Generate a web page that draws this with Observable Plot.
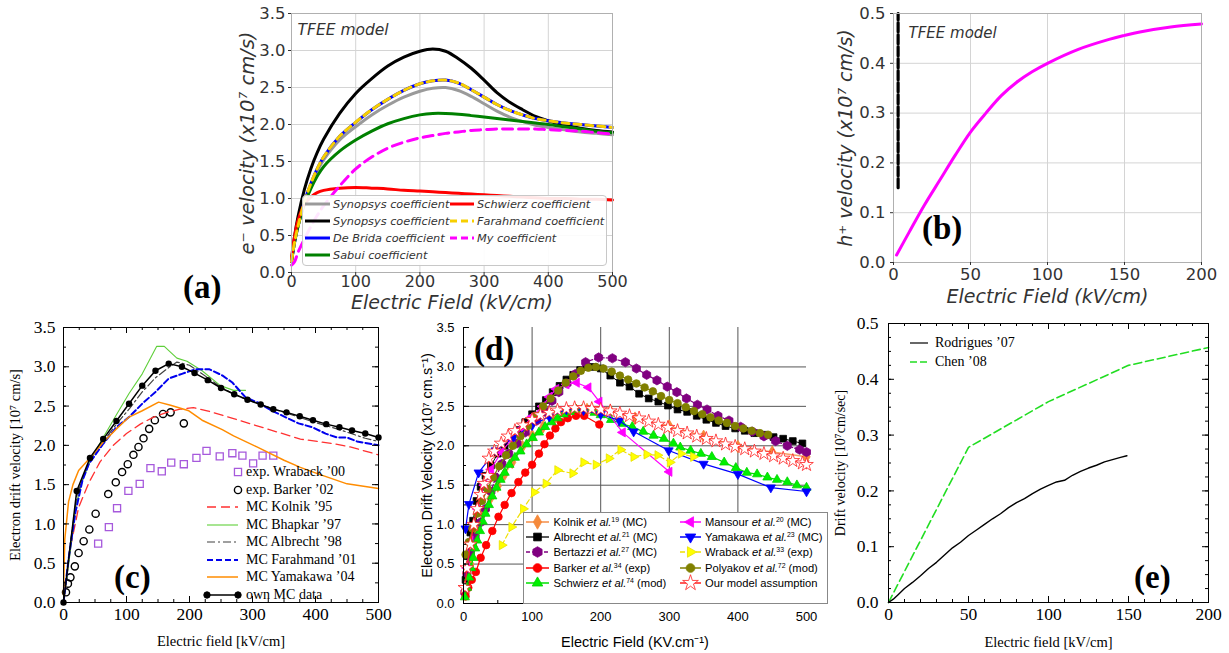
<!DOCTYPE html>
<html><head><meta charset="utf-8">
<script src="https://cdn.jsdelivr.net/npm/d3@7"></script>
<script src="https://cdn.jsdelivr.net/npm/@observablehq/plot@0.6"></script>
<style>
html,body{margin:0;padding:0;background:#fff;}
#fig{position:relative;width:1229px;height:653px;overflow:hidden;background:#fff;}
.plbl{position:absolute;font-family:"Liberation Serif",serif;font-weight:bold;font-size:33px;line-height:1;color:#000;}
</style></head>
<body><div id="fig"></div>
<script>
// ---------------- Panel (a) data ----------------
const aField = [0,5,10,20,30,40,50,75,100,125,150,175,200,220,240,260,280,300,320,340,360,380,400,425,450,475,500];
const aSynopsysGrey = [0.15,0.42,0.62,0.95,1.18,1.37,1.52,1.79,1.97,2.13,2.26,2.37,2.45,2.49,2.5,2.46,2.38,2.28,2.18,2.1,2.04,1.99,1.96,1.93,1.9,1.88,1.86];
const aSynopsysBlack = [0.15,0.5,0.75,1.12,1.4,1.62,1.8,2.15,2.42,2.62,2.79,2.91,2.99,3.02,2.99,2.89,2.76,2.6,2.43,2.3,2.2,2.11,2.05,1.99,1.95,1.92,1.9];
const aDeBrida = [0.15,0.42,0.62,0.95,1.2,1.4,1.56,1.84,2.03,2.2,2.34,2.46,2.55,2.59,2.6,2.56,2.47,2.37,2.27,2.19,2.13,2.08,2.05,2.02,2.0,1.98,1.96];
const aFarahmand = [0.15,0.42,0.62,0.95,1.2,1.4,1.56,1.84,2.03,2.2,2.34,2.46,2.55,2.59,2.6,2.56,2.47,2.37,2.27,2.19,2.13,2.08,2.05,2.02,2.0,1.98,1.96];
const aSabui = [0.15,0.42,0.62,0.92,1.13,1.3,1.43,1.64,1.79,1.91,2.01,2.08,2.13,2.15,2.15,2.14,2.12,2.1,2.08,2.06,2.04,2.02,2.0,1.97,1.94,1.91,1.89];
const aSchwierz = [0.2,0.5,0.7,0.92,1.02,1.08,1.11,1.14,1.15,1.14,1.13,1.11,1.1,1.09,1.08,1.07,1.06,1.05,1.04,1.03,1.02,1.01,1.0,1.0,0.99,0.99,0.98];
const aMine = [0.1,0.15,0.27,0.45,0.62,0.77,0.9,1.17,1.4,1.56,1.68,1.76,1.82,1.85,1.88,1.9,1.92,1.93,1.94,1.94,1.94,1.94,1.93,1.92,1.91,1.89,1.87];
const aXTicks = [0,100,200,300,400,500];
const aYTicks = [0,0.5,1,1.5,2,2.5,3,3.5];
const aLegendNames = ["Synopsys coefficient","Synopsys coefficient","De Brida coefficient","Sabui coefficient","Schwierz coefficient","Farahmand coefficient","My coefficient"];

// ---------------- Panel (b) data ----------------
const bField = [2,10,20,30,40,50,60,70,80,90,100,120,140,150,160,180,200];
const bHole = [0.015,0.06,0.115,0.165,0.215,0.262,0.3,0.335,0.362,0.383,0.4,0.428,0.448,0.456,0.463,0.473,0.479];
const bMarkField = [3,3];
const bMarkV = [0.15,0.5];
const bXTicks = [0,50,100,150,200];
const bYTicks = [0,0.1,0.2,0.3,0.4,0.5];

// ---------------- Panel (c) data ----------------
const cOwnField = [0,21,42,63,84,104,125,146,167,188,208,229,250,271,292,313,333,354,375,396,417,438,458,479,500];
const cOwnV = [0,1.42,1.84,2.08,2.31,2.53,2.76,2.95,3.04,3.0,2.92,2.83,2.73,2.65,2.58,2.52,2.46,2.42,2.37,2.32,2.27,2.23,2.19,2.15,2.1];
const cBarkerField = [4,7,11,18,24,32,41,51,71,83,93,102,111,119,127,136,145,158,170,191];
const cBarkerV = [0.13,0.24,0.32,0.46,0.63,0.78,0.93,1.13,1.38,1.53,1.66,1.76,1.88,1.98,2.09,2.21,2.32,2.4,2.42,2.28];
const cWrabackField = [55,72,85,103,121,138,156,171,191,211,227,248,268,284,301,316,333];
const cWrabackV = [0.75,0.96,1.2,1.42,1.51,1.71,1.67,1.78,1.76,1.84,1.93,1.86,1.9,1.87,1.77,1.87,1.87];
const cKolnikField = [0,11,24,40,58,79,100,122,143,164,185,206,228,270,323,376,429,455,500];
const cKolnikV = [0,0.7,1.21,1.52,1.79,2.0,2.15,2.27,2.36,2.42,2.46,2.48,2.44,2.34,2.21,2.08,2.02,1.98,1.88];
const cBhapkarField = [0,10,20,30,43,63,84,104,125,148,160,168,180,196,220,249,270,289];
const cBhapkarV = [0,0.6,1.25,1.55,1.81,2.1,2.39,2.66,2.91,3.26,3.26,3.2,3.11,3.07,2.95,2.76,2.7,2.7];
const cAlbrechtField = [0,10,21,31,42,63,84,105,125,146,167,180,200,229,250,271,292,313,354,396,438,479,500];
const cAlbrechtV = [0,0.7,1.35,1.6,1.82,2.05,2.27,2.47,2.68,2.86,2.99,3.06,3.02,2.86,2.74,2.65,2.58,2.52,2.41,2.3,2.2,2.09,2.05];
const cFarahmandField = [0,8,19,30,40,63,84,104,125,146,167,188,210,231,252,268,289,310,331,352,373,395,416,434,450,466,500];
const cFarahmandV = [0,0.55,1.15,1.55,1.76,2.02,2.23,2.36,2.53,2.68,2.85,2.91,2.97,2.97,2.89,2.8,2.61,2.54,2.44,2.36,2.28,2.23,2.15,2.1,2.1,2.05,2.0];
const cYamakawaField = [0,2,8,15,24,43,63,84,104,125,151,170,199,220,252,270,307,350,376,403,450,500];
const cYamakawaV = [0.1,0.8,1.28,1.5,1.68,1.85,2.04,2.21,2.36,2.44,2.55,2.51,2.44,2.32,2.2,2.12,1.98,1.81,1.72,1.64,1.51,1.45];
const cXTicks = [0,100,200,300,400,500];
const cYTicks = [0,0.5,1,1.5,2,2.5,3,3.5];

// ---------------- Panel (d) data ----------------
const dKolnikField = [5,10,15,20,28,39,50,60,71,86,100,116,132,148,164,180,214,250,300,350,400,450,500];
const dKolnikV = [0.25,0.5,0.72,0.92,1.14,1.33,1.49,1.64,1.79,1.99,2.13,2.24,2.33,2.4,2.45,2.46,2.44,2.35,2.25,2.12,1.99,1.92,1.86];
const dAlbrechtField = [3,6,10,14,19,25,32,40,50,60,70,80,90,100,110,120,130,140,150,160,170,180,190,200,214,228,242,256,270,284,298,312,326,340,354,368,382,396,410,424,438,452,466,480,494];
const dAlbrechtV = [0.3,0.6,0.9,1.05,1.3,1.48,1.62,1.75,1.9,2.0,2.1,2.2,2.3,2.4,2.5,2.58,2.68,2.76,2.84,2.9,2.96,3.0,3.0,2.98,2.89,2.8,2.75,2.66,2.6,2.56,2.51,2.46,2.43,2.38,2.33,2.29,2.25,2.22,2.19,2.16,2.14,2.11,2.09,2.06,2.03];
const dBertazziField = [2,5,10,17,25,32,40,47,56,66,78,90,107,119,129,139,151,163,178,197,217,236,252,267,282,297,311,325,341,355,371,387,404,421,438,455,472,490,500];
const dBertazziV = [0.14,0.38,0.63,0.84,1.03,1.2,1.42,1.6,1.77,1.9,2.03,2.17,2.32,2.43,2.57,2.68,2.79,2.91,3.06,3.12,3.11,3.06,2.98,2.9,2.83,2.75,2.68,2.6,2.52,2.46,2.38,2.32,2.24,2.18,2.12,2.06,2.0,1.95,1.92];
const dBarkerField = [3,7,12,18,25,33,42,51,60,70,80,90,100,110,118,126,134,142,152,164,176,198];
const dBarkerV = [0.09,0.2,0.3,0.4,0.58,0.74,0.92,1.1,1.25,1.4,1.54,1.66,1.76,1.9,2.02,2.13,2.22,2.3,2.35,2.38,2.38,2.27];
const dSchwierzField = [2,5,8,11,14,17,20,24,28,32,37,42,48,54,60,67,75,83,92,101,110,119,128,137,146,155,164,173,182,191,200,215,231,246,262,277,292,306,316,331,346,362,380,397,413,428,443,457,472,486,500];
const dSchwierzV = [0.08,0.2,0.33,0.45,0.58,0.7,0.8,0.92,1.04,1.14,1.25,1.36,1.47,1.57,1.66,1.76,1.85,1.93,2.02,2.1,2.17,2.24,2.3,2.35,2.4,2.43,2.46,2.46,2.45,2.42,2.39,2.33,2.28,2.24,2.18,2.13,2.09,2.03,1.98,1.94,1.9,1.86,1.79,1.72,1.66,1.64,1.6,1.57,1.54,1.5,1.47];
const dMansourField = [5,10,20,30,40,55,70,85,100,115,125,135,150,165,182,198,232,300];
const dMansourV = [0.45,0.8,1.2,1.5,1.7,1.92,2.08,2.22,2.37,2.5,2.62,2.72,2.78,2.8,2.74,2.56,2.17,1.67];
const dYamakawaField = [3,8,22,47,72,100,125,150,175,200,227,248,299,350,400,448,500];
const dYamakawaV = [0.95,1.26,1.66,1.94,2.1,2.26,2.37,2.46,2.45,2.4,2.32,2.18,1.94,1.77,1.64,1.47,1.42];
const dWrabackField = [56,70,87,103,120,137,159,175,193,212,229,248,267,283,301,317,335];
const dWrabackV = [0.74,0.97,1.2,1.41,1.52,1.69,1.65,1.79,1.76,1.84,1.95,1.86,1.89,1.88,1.79,1.9,1.86];
const dPolyakovField = [3,8,13,20,27,35,43,52,62,72,83,94,105,116,127,138,149,160,171,182,193,204,216,228,240,252,264,276,288,300,312,324,336,348,360,372,384,396,408,420,432,444];
const dPolyakovV = [0.62,0.78,0.95,1.14,1.3,1.45,1.6,1.74,1.88,2.0,2.12,2.25,2.38,2.5,2.6,2.7,2.8,2.88,2.95,2.99,3.0,2.98,2.94,2.89,2.84,2.79,2.74,2.69,2.63,2.58,2.54,2.49,2.44,2.4,2.36,2.32,2.29,2.25,2.22,2.19,2.16,2.14];
const dOurField = [2,5,10,15,20,25,30,35,37,45,55,65,75,87,100,112,125,137,150,162,175,187,200,214,228,242,256,270,284,298,312,326,340,354,368,382,396,410,424,438,452,466,480,494,500];
const dOurV = [0.2,0.45,0.75,1.0,1.2,1.38,1.52,1.62,1.84,1.93,2.03,2.12,2.19,2.26,2.33,2.39,2.42,2.45,2.47,2.48,2.48,2.47,2.46,2.44,2.41,2.38,2.35,2.31,2.27,2.23,2.19,2.16,2.12,2.09,2.06,2.02,1.99,1.96,1.93,1.9,1.87,1.84,1.81,1.78,1.76];
const dXTicks = [0,100,200,300,400,500];
const dYTicks = [0,0.5,1,1.5,2,2.5,3,3.5];

// ---------------- Panel (e) data ----------------
const eRodriguesField = [0,3,6,10,15,20,25,30,35,40,45,50,55,60,65,70,75,80,85,90,95,100,105,110,115,120,125,130,135,140,145,149];
const eRodriguesV = [0,0.006,0.014,0.025,0.036,0.048,0.061,0.072,0.085,0.098,0.108,0.12,0.13,0.14,0.15,0.159,0.17,0.179,0.186,0.195,0.203,0.21,0.216,0.219,0.228,0.235,0.241,0.246,0.252,0.256,0.26,0.263];
const eChenField = [0,50,100,150,200];
const eChenV = [0,0.278,0.36,0.425,0.457];
const eXTicks = [0,50,100,150,200];
const eYTicks = [0,0.1,0.2,0.3,0.4,0.5];

// ---------------- helpers ----------------
const fig = document.getElementById("fig");
const pts = (xs, ys) => xs.map((x, i) => ({x, y: ys[i]}));
const minor = (n, step) => d3.range(0, n + 1).map(i => +(i * step).toFixed(4));
const S3 = Math.sqrt(3);
const triDown = {draw(c, s) { const y = -Math.sqrt(s / (S3 * 3)); c.moveTo(0, -y * 2); c.lineTo(-S3 * y, y); c.lineTo(S3 * y, y); c.closePath(); }};
const triLeft = {draw(c, s) { const y = -Math.sqrt(s / (S3 * 3)); c.moveTo(y * 2, 0); c.lineTo(-y, -S3 * y); c.lineTo(-y, S3 * y); c.closePath(); }};
const triRight = {draw(c, s) { const y = -Math.sqrt(s / (S3 * 3)); c.moveTo(-y * 2, 0); c.lineTo(y, S3 * y); c.lineTo(y, -S3 * y); c.closePath(); }};
const hexa = {draw(c, s) { const r = Math.sqrt(s / (1.5 * S3)); for (let k = 0; k < 6; k++) { const a = Math.PI / 6 + k * Math.PI / 3; const px = r * Math.cos(a), py = r * Math.sin(a); k ? c.lineTo(px, py) : c.moveTo(px, py); } c.closePath(); }};
const area = r => Math.PI * r * r;

function mount(svg, P) {
  svg.style.position = "absolute"; svg.style.left = P.left + "px"; svg.style.top = P.top + "px";
  svg.style.maxWidth = "none"; svg.style.background = "transparent"; svg.style.overflow = "visible";
  fig.appendChild(svg);
}
function inTicks(P, xs, ys, len, color, sides) {
  const pw = P.width - P.ml - P.mr, ph = P.height - P.mt - P.mb, m = [];
  if (sides.includes("b")) m.push(Plot.tickX(xs, {x: d => d, insetTop: ph - len, stroke: color}));
  if (sides.includes("t")) m.push(Plot.tickX(xs, {x: d => d, insetBottom: ph - len, stroke: color}));
  if (sides.includes("l")) m.push(Plot.tickY(ys, {y: d => d, insetRight: pw - len, stroke: color}));
  if (sides.includes("r")) m.push(Plot.tickY(ys, {y: d => d, insetLeft: pw - len, stroke: color}));
  return m;
}
const yTitle = (txt, dx, o) => Plot.text([txt], {text: d => d, frameAnchor: "left", dx, rotate: -90, textAnchor: "middle", lineAnchor: "middle", ...o});
const xTitle = (txt, dy, o) => Plot.text([txt], {text: d => d, frameAnchor: "bottom", dy, textAnchor: "middle", lineAnchor: "middle", ...o});
function legendItem(o) {
  const h = 16, w = o.x1 - o.x0;
  const box = document.createElement("div");
  box.style.cssText = `position:absolute;left:${o.x0}px;top:${o.cy - h / 2}px;width:${w}px;height:${h}px;`;
  let s = `<svg width="${w}" height="${h}" style="overflow:visible;display:block">`;
  if (o.line) s += `<line x1="0" x2="${w}" y1="${h / 2}" y2="${h / 2}" stroke="${o.line}" stroke-width="${o.lw || 1}"${o.dash ? ` stroke-dasharray="${o.dash}"` : ""}/>`;
  for (const mx of (o.markers || [])) s += `<path d="${d3.symbol(o.symbol, o.size)()}" transform="translate(${mx - o.x0},${h / 2})" fill="${o.fill}" stroke="${o.stroke}" stroke-width="${o.sw || 1}"/>`;
  box.innerHTML = s + "</svg>";
  (o.parent || fig).appendChild(box);
  const t = document.createElement("div");
  t.style.cssText = `position:absolute;left:${o.tx}px;top:${o.cy}px;transform:translateY(-50%);font-family:${o.font};font-size:${o.fs}px;${o.italic ? "font-style:italic;" : ""}color:${o.color || "#000"};white-space:nowrap;line-height:1.15;`;
  t.innerHTML = o.html;
  (o.parent || fig).appendChild(t);
}
function panelLabel(txt, left, top) {
  const d = document.createElement("div"); d.className = "plbl"; d.style.left = left + "px"; d.style.top = top + "px"; d.textContent = txt; fig.appendChild(d);
}
const f1 = d3.format(".1f");

// ================= Panel (a) =================
const A = {left: 220, top: 0, width: 400, height: 310, ml: 71, mr: 8, mt: 13, mb: 38};
const aLine = (ys, stroke, w, dash) => Plot.line(pts(aField, ys), {x: "x", y: "y", stroke, strokeWidth: w, strokeDasharray: dash, curve: "catmull-rom"});
mount(Plot.plot({
  width: A.width, height: A.height, marginLeft: A.ml, marginRight: A.mr, marginTop: A.mt, marginBottom: A.mb,
  style: {fontFamily: "'DejaVu Sans', sans-serif"},
  x: {domain: [0, 500], axis: null}, y: {domain: [0, 3.5], axis: null},
  marks: [
    Plot.gridX(aXTicks, {stroke: "#d4d4d4", strokeOpacity: 1}),
    Plot.gridY(aYTicks, {stroke: "#d4d4d4", strokeOpacity: 1}),
    aLine(aSynopsysGrey, "#9a9a9a", 3),
    aLine(aSynopsysBlack, "#000", 3),
    aLine(aDeBrida, "#0000ff", 3),
    aLine(aSabui, "#008000", 3),
    aLine(aSchwierz, "#ff0000", 3),
    aLine(aFarahmand, "#f7cf00", 3, "7,5"),
    aLine(aMine, "#ff00ff", 3, "10,6"),
    Plot.frame({stroke: "#b0b0b0"}),
    Plot.axisX(aXTicks, {tickSize: 3, tickPadding: 0, fontSize: 16, color: "#333", label: null}),
    Plot.axisY(aYTicks, {tickSize: 3, tickPadding: 3, fontSize: 16.5, color: "#333", tickFormat: f1, label: null}),
    yTitle("e⁻ velocity (x10⁷ cm/s)", -44, {fontSize: 19.5, fontStyle: "italic", fill: "#333"}),
    xTitle("Electric Field (kV/cm)", 30.5, {fontSize: 19, fontStyle: "italic", fill: "#333"}),
    Plot.text(["TFEE model"], {text: d => d, frameAnchor: "top-left", dx: 6, dy: 17, textAnchor: "start", lineAnchor: "middle", fontSize: 15.5, fontStyle: "italic", fill: "#333"})
  ]
}), A);
{
  const lb = document.createElement("div");
  lb.style.cssText = "position:absolute;left:302px;top:195px;width:303px;height:69px;border:1px solid #c8c8c8;border-radius:4px;background:rgba(255,255,255,0.9);";
  fig.appendChild(lb);
  const col = [{x0: 305, x1: 330, tx: 333}, {x0: 450, x1: 474, tx: 477}];
  const rows = [204, 221, 238, 255];
  const cfg = [[0, 0, "#9a9a9a", null], [0, 1, "#000", null], [0, 2, "#0000ff", null], [0, 3, "#008000", null], [1, 0, "#ff0000", null], [1, 1, "#f7cf00", "7,4"], [1, 2, "#ff00ff", "7,4"]];
  cfg.forEach(([c, r, color, dash], i) => legendItem({x0: col[c].x0, x1: col[c].x1, cy: rows[r], tx: col[c].tx, line: color, lw: 3, dash, html: aLegendNames[i], font: "'DejaVu Sans',sans-serif", fs: 11.3, italic: true, color: "#333"}));
}

// ================= Panel (b) =================
const B = {left: 830, top: 0, width: 399, height: 310, ml: 63, mr: 28, mt: 13, mb: 48};
mount(Plot.plot({
  width: B.width, height: B.height, marginLeft: B.ml, marginRight: B.mr, marginTop: B.mt, marginBottom: B.mb,
  style: {fontFamily: "'DejaVu Sans', sans-serif"},
  x: {domain: [0, 200], axis: null}, y: {domain: [0, 0.5], axis: null},
  marks: [
    Plot.gridX(bXTicks, {stroke: "#d4d4d4", strokeOpacity: 1}),
    Plot.gridY(bYTicks, {stroke: "#d4d4d4", strokeOpacity: 1}),
    Plot.line(pts(bMarkField, bMarkV), {x: "x", y: "y", stroke: "#9a9a9a", strokeWidth: 3}),
    Plot.line(pts(bMarkField, bMarkV), {x: "x", y: "y", stroke: "#000", strokeWidth: 3, strokeDasharray: "9,3"}),
    Plot.line(pts(bField, bHole), {x: "x", y: "y", stroke: "#ff00ff", strokeWidth: 3, curve: "catmull-rom"}),
    Plot.frame({stroke: "#b0b0b0"}),
    Plot.axisX(bXTicks, {tickSize: 3, tickPadding: 3, fontSize: 16.5, color: "#333", label: null}),
    Plot.axisY(bYTicks, {tickSize: 3, tickPadding: 5, fontSize: 16.5, color: "#333", tickFormat: f1, label: null}),
    yTitle("h⁺ velocity (x10⁷ cm/s)", -48, {fontSize: 19, fontStyle: "italic", fill: "#333"}),
    xTitle("Electric Field (kV/cm)", 34, {fontSize: 19, fontStyle: "italic", fill: "#333"}),
    Plot.text(["TFEE model"], {text: d => d, frameAnchor: "top-left", dx: 15, dy: 20, textAnchor: "start", lineAnchor: "middle", fontSize: 15, fontStyle: "italic", fill: "#333"})
  ]
}), B);

// ================= Panel (c) =================
const C = {left: 0, top: 310, width: 400, height: 343, ml: 63, mr: 22, mt: 17, mb: 51};
const cLine = (xs, ys, stroke, w, dash) => Plot.line(pts(xs, ys), {x: "x", y: "y", stroke, strokeWidth: w, strokeDasharray: dash});
mount(Plot.plot({
  width: C.width, height: C.height, marginLeft: C.ml, marginRight: C.mr, marginTop: C.mt, marginBottom: C.mb,
  style: {fontFamily: "'Liberation Serif', serif"},
  x: {domain: [0, 500], axis: null}, y: {domain: [0, 3.5], axis: null},
  marks: [
    Plot.dot(pts(cWrabackField, cWrabackV), {x: "x", y: "y", symbol: d3.symbolSquare, r: 4, fill: "none", stroke: "#a659dc", strokeWidth: 1.3}),
    Plot.dot(pts(cBarkerField, cBarkerV), {x: "x", y: "y", symbol: d3.symbolCircle, r: 3.6, fill: "none", stroke: "#000", strokeWidth: 1.4}),
    cLine(cKolnikField, cKolnikV, "#ff3030", 1.3, "9,5"),
    cLine(cBhapkarField, cBhapkarV, "#5fcf3a", 1.1),
    cLine(cAlbrechtField, cAlbrechtV, "#404040", 1.2, "8,3,2,3"),
    cLine(cFarahmandField, cFarahmandV, "#0000ee", 2, "6,3"),
    cLine(cYamakawaField, cYamakawaV, "#ff8c00", 1.5),
    cLine(cOwnField, cOwnV, "#000", 1.5),
    Plot.dot(pts(cOwnField, cOwnV), {x: "x", y: "y", r: 3.2, fill: "#000"}),
    Plot.frame({stroke: "#000"}),
    ...inTicks(C, cXTicks, cYTicks, 6, "#000", "btlr"),
    ...inTicks(C, minor(20, 25), minor(14, 0.25), 3, "#000", "btlr"),
    Plot.axisX(cXTicks, {tickSize: 0, tickPadding: 5, fontSize: 17.5, color: "#000", label: null}),
    Plot.axisY(cYTicks, {tickSize: 0, tickPadding: 8, fontSize: 17.5, color: "#000", tickFormat: f1, label: null}),
    yTitle("Electron drift velocity [10⁷ cm/s]", -48, {fontSize: 14.5, fill: "#000"}),
    xTitle("Electric field [kV/cm]", 38.5, {fontSize: 14.5, fill: "#000"})
  ]
}), C);
{
  const F = "'Liberation Serif',serif", fs = 14;
  const rows = [472.3, 490, 507.3, 525, 542.3, 560, 576.7, 595];
  const base = {x0: 207, x1: 238, tx: 246, font: F, fs};
  legendItem({...base, cy: rows[0], html: "exp. Wraback ’00", markers: [238], symbol: d3.symbolSquare, size: area(4), fill: "none", stroke: "#a659dc", sw: 1.3});
  legendItem({...base, cy: rows[1], html: "exp. Barker ’02", markers: [238], symbol: d3.symbolCircle, size: area(3.6), fill: "none", stroke: "#000", sw: 1.4});
  legendItem({...base, cy: rows[2], html: "MC Kolnik ’95", line: "#ff3030", lw: 1.3, dash: "9,5"});
  legendItem({...base, cy: rows[3], html: "MC Bhapkar ’97", line: "#5fcf3a", lw: 1.1});
  legendItem({...base, cy: rows[4], html: "MC Albrecht ’98", line: "#404040", lw: 1.2, dash: "8,3,2,3"});
  legendItem({...base, cy: rows[5], html: "MC Farahmand ’01", line: "#0000ee", lw: 2, dash: "6,3"});
  legendItem({...base, cy: rows[6], html: "MC Yamakawa ’04", line: "#ff8c00", lw: 1.5});
  legendItem({...base, cy: rows[7], html: "own MC data", line: "#000", lw: 1.5, markers: [207, 238], symbol: d3.symbolCircle, size: area(3.2), fill: "#000", stroke: "#000"});
}

// ================= Panel (d) =================
const D = {left: 400, top: 310, width: 420, height: 343, ml: 63, mr: 14, mt: 17, mb: 50};
const dSeries = [
  {xs: dKolnikField, ys: dKolnikV, line: "#f6a066", lw: 1.5, sym: d3.symbolDiamond, r: 3.8, fill: "#f5893a", stroke: "#f5893a"},
  {xs: dAlbrechtField, ys: dAlbrechtV, line: "#000", lw: 1, sym: d3.symbolSquare, r: 3.8, fill: "#000", stroke: "#000"},
  {xs: dBertazziField, ys: dBertazziV, line: "#800080", lw: 1.2, dash: "4,2", sym: hexa, r: 4.2, fill: "#800080", stroke: "#800080"},
  {xs: dBarkerField, ys: dBarkerV, line: "#ff0000", lw: 1.2, sym: d3.symbolCircle, r: 3.8, fill: "#ff0000", stroke: "#ff0000"},
  {xs: dSchwierzField, ys: dSchwierzV, line: "#00e000", lw: 1.2, sym: d3.symbolTriangle, r: 3.4, fill: "#00f000", stroke: "#00d000"},
  {xs: dMansourField, ys: dMansourV, line: "#ff00ff", lw: 1.2, sym: triLeft, r: 3.4, fill: "#ff00ff", stroke: "#ff00ff"},
  {xs: dYamakawaField, ys: dYamakawaV, line: "#0000ff", lw: 1.2, sym: triDown, r: 3.4, fill: "#0000ff", stroke: "#0000ff"},
  {xs: dWrabackField, ys: dWrabackV, line: "#f0e000", lw: 1.2, dash: "5,3", sym: triRight, r: 3.4, fill: "#ffff00", stroke: "#e8e000"},
  {xs: dPolyakovField, ys: dPolyakovV, line: "#808000", lw: 1.2, sym: d3.symbolCircle, r: 3.8, fill: "#808000", stroke: "#808000"},
  {xs: dOurField, ys: dOurV, line: "#ff2020", lw: 1.2, sym: d3.symbolStar, r: 4.3, fill: "#fff", stroke: "#ff2020"}
];
const dMarks = [];
for (const s of dSeries) {
  const data = pts(s.xs, s.ys);
  dMarks.push(Plot.line(data, {x: "x", y: "y", stroke: s.line, strokeWidth: s.lw, strokeDasharray: s.dash}));
  dMarks.push(Plot.dot(data, {x: "x", y: "y", symbol: s.sym, r: s.r, fill: s.fill, stroke: s.stroke, strokeWidth: 0.8}));
}
mount(Plot.plot({
  width: D.width, height: D.height, marginLeft: D.ml, marginRight: D.mr, marginTop: D.mt, marginBottom: D.mb,
  style: {fontFamily: "'Liberation Sans', Arial, sans-serif"},
  x: {domain: [0, 500], axis: null}, y: {domain: [0, 3.5], axis: null},
  marks: [
    Plot.gridX([100, 200, 300, 400], {stroke: "#555", strokeOpacity: 1}),
    Plot.gridY([0.5, 1, 1.5, 2, 2.5, 3], {stroke: "#555", strokeOpacity: 1}),
    ...dMarks,
    Plot.ruleX([0], {stroke: "#000"}),
    Plot.ruleY([0], {stroke: "#000"}),
    ...inTicks(D, dXTicks, dYTicks, 6, "#000", "bl"),
    ...inTicks(D, minor(10, 50), minor(14, 0.25), 3, "#000", "bl"),
    Plot.axisX(dXTicks, {tickSize: 0, tickPadding: 8, fontSize: 13, color: "#000", label: null}),
    Plot.axisY(dYTicks, {tickSize: 0, tickPadding: 9, fontSize: 13, color: "#000", tickFormat: f1, label: null}),
    yTitle("Electron Drift Velocity (x10⁷ cm.s⁻¹)", -36, {fontSize: 14.5, fill: "#000"}),
    xTitle("Electric Field (KV.cm⁻¹)", 38.5, {fontSize: 14.5, fill: "#000"})
  ]
}), D);
{
  const lb = document.createElement("div");
  lb.style.cssText = "position:absolute;left:523px;top:512px;width:303px;height:90px;border:1px solid #888;background:#fff;overflow:hidden;";
  fig.appendChild(lb);
  const names = [
    "Kolnik <i>et al.</i><sup>19</sup> (MC)", "Albrecht <i>et al.</i><sup>21</sup> (MC)", "Bertazzi <i>et al.</i><sup>27</sup> (MC)",
    "Barker <i>et al.</i><sup>34</sup> (exp)", "Schwierz <i>et al.</i><sup>74</sup> (mod)", "Mansour <i>et al.</i><sup>20</sup> (MC)",
    "Yamakawa <i>et al.</i><sup>23</sup> (MC)", "Wraback <i>et al.</i><sup>33</sup> (exp)", "Polyakov <i>et al.</i><sup>72</sup> (mod)", "Our model assumption"];
  const rows = [8.7, 24, 39.3, 54.7, 70];
  const cols = [{x0: 2, x1: 25, tx: 29.5}, {x0: 156, x1: 177, tx: 181}];
  dSeries.forEach((s, i) => {
    const c = cols[Math.floor(i / 5)], cy = rows[i % 5];
    legendItem({parent: lb, x0: c.x0, x1: c.x1, cy, tx: c.tx, line: s.line, lw: s.lw + 0.3, dash: s.dash, markers: [(c.x0 + c.x1) / 2], symbol: s.sym, size: area(s.r * 1.15), fill: s.fill, stroke: s.stroke, sw: 0.8,
      html: names[i].replace(/<sup>/g, "<sup style='font-size:0.62em;vertical-align:0.5em;line-height:0'>"), font: "'Liberation Sans',Arial,sans-serif", fs: 11.2});
  });
}

// ================= Panel (e) =================
const E = {left: 820, top: 310, width: 409, height: 343, ml: 68, mr: 21, mt: 13, mb: 51};
mount(Plot.plot({
  width: E.width, height: E.height, marginLeft: E.ml, marginRight: E.mr, marginTop: E.mt, marginBottom: E.mb,
  style: {fontFamily: "'Liberation Serif', serif"},
  x: {domain: [0, 200], axis: null}, y: {domain: [0, 0.5], axis: null},
  marks: [
    Plot.line(pts(eChenField, eChenV), {x: "x", y: "y", stroke: "#22dd22", strokeWidth: 1.6, strokeDasharray: "8,4"}),
    Plot.line(pts(eRodriguesField, eRodriguesV), {x: "x", y: "y", stroke: "#000", strokeWidth: 1.4}),
    Plot.frame({stroke: "#000"}),
    ...inTicks(E, eXTicks, eYTicks, 6, "#000", "btlr"),
    ...inTicks(E, minor(20, 10), minor(20, 0.025), 3, "#000", "btlr"),
    Plot.axisX(eXTicks, {tickSize: 0, tickPadding: 5, fontSize: 17.5, color: "#000", label: null}),
    Plot.axisY(eYTicks, {tickSize: 0, tickPadding: 10, fontSize: 17.5, color: "#000", tickFormat: f1, label: null}),
    yTitle("Drift velocity [10⁷cm/sec]", -48, {fontSize: 14, fill: "#000"}),
    xTitle("Electric field [kV/cm]", 39.5, {fontSize: 14.5, fill: "#000"})
  ]
}), E);
legendItem({x0: 910, x1: 928, cy: 342.7, tx: 935, line: "#000", lw: 1.2, html: "Rodrigues ’07", font: "'Liberation Serif',serif", fs: 14});
legendItem({x0: 910, x1: 928, cy: 361.7, tx: 935, line: "#22dd22", lw: 1.4, dash: "7,3", html: "Chen ’08", font: "'Liberation Serif',serif", fs: 14});

// panel labels
panelLabel("(a)", 183, 271);
panelLabel("(b)", 922, 212);
panelLabel("(c)", 114, 561);
panelLabel("(d)", 474, 333);
panelLabel("(e)", 1134, 561);
</script>
</body></html>
